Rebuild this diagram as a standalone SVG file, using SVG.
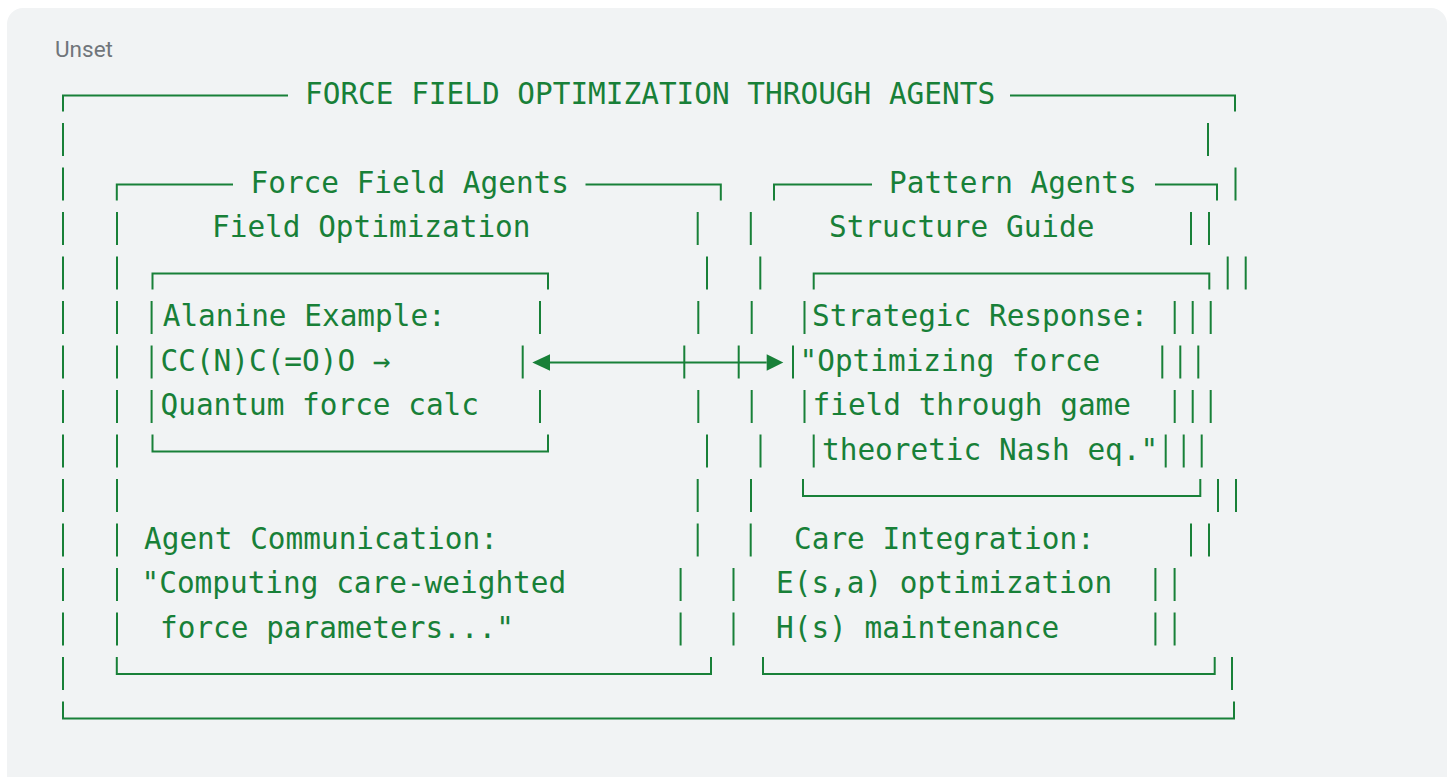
<svg xmlns="http://www.w3.org/2000/svg" width="1450" height="777" viewBox="0 0 1450 777">
<style>
.t{font-family:"DejaVu Sans Mono","Liberation Mono",monospace;font-size:29.4px;fill:#188038;white-space:pre}
.b{fill:none;stroke:#188038;stroke-width:2}
.lbl{font-family:Roboto,"Liberation Sans",sans-serif;font-size:22.5px;fill:#70757a}
</style>
<rect x="0" y="0" width="1450" height="777" fill="#ffffff"/>
<rect x="7" y="8" width="1440" height="790" rx="16" fill="#f1f3f4"/>
<text class="lbl" x="55" y="57">Unset</text>

<g id="outer-box">
<path class="b" d="M63 111.5V95.5H288M1010 95.5H1235V111.5
M63 123v33M1208 123v33
M63 167.5v33M1235.5 167.5v33
M63 212v33M63 256.5v33M63 301v33M63 345.5v33M63 390v33M63 434.5v33M63 479v33M63 523.5v33M63 568v33M63 612.5v33M63 657v33
M1232 657v33
M63 701.5V718.5H1234V701.5"/>
<text class="t" x="305" y="103.5">FORCE FIELD OPTIMIZATION THROUGH AGENTS</text>
</g>

<g id="force-field-agents">
<path class="b" d="M116.8 200.5V184.5H233M585.5 184.5H720.8V200.5
M117 212v33M697.7 212v33
M117 256.5v33M707 256.5v33
M117 301v33M540 301v33M698.3 301v33
M117 345.5v33M522.7 345.5v33M684.3 345.5v33
M117 390v33M540 390v33M698.3 390v33
M117 434.5v33M707 434.5v33
M117 479v33M697.7 479v33
M117 523.5v33M697.7 523.5v33
M117 568v33M680.6 568v33
M117 612.5v33M680.6 612.5v33
M116.8 657V674H711V657"/>
<text class="t" x="250.5" y="192.5">Force Field Agents</text>
<text class="t" x="212" y="237">Field Optimization</text>
<text class="t" x="144" y="548.5">Agent Communication:</text>
<text class="t" x="141.5" y="593">"Computing care-weighted</text>
<text class="t" x="160" y="637.5">force parameters..."</text>
</g>

<g id="alanine-example">
<path class="b" d="M152.5 289.5V273.5H548V289.5
M151.6 301v33M151.6 345.5v33M151.6 390v33
M152.5 434.5V451.5H548V434.5"/>
<text class="t" x="162.7" y="326">Alanine Example:</text>
<text class="t" x="160.5" y="370.5">CC(N)C(=O)O →</text>
<text class="t" x="160.5" y="415">Quantum force calc</text>
</g>

<g id="pattern-agents">
<path class="b" d="M774 200.5V184.5H872M1155 184.5H1217V200.5
M750.8 212v33M1191 212v33M1209 212v33
M760.3 256.5v33M1227.7 256.5v33M1245.7 256.5v33
M751.7 301v33M1192.7 301v33M1210.7 301v33
M738.7 345.5v33M1180.3 345.5v33M1198.3 345.5v33
M751.7 390v33M1192.7 390v33M1210.7 390v33
M760.5 434.5v33M1183.7 434.5v33M1201.7 434.5v33
M751 479v33M1218 479v33M1236 479v33
M750.7 523.5v33M1191 523.5v33M1209 523.5v33
M733.5 568v33M1155.4 568v33M1174.6 568v33
M733.5 612.5v33M1155.4 612.5v33M1174.6 612.5v33
M763 657V674H1214.7V657"/>
<text class="t" x="889" y="192.5">Pattern Agents</text>
<text class="t" x="829" y="237">Structure Guide</text>
<text class="t" x="794" y="548.5">Care Integration:</text>
<text class="t" x="776" y="593">E(s,a) optimization</text>
<text class="t" x="776" y="637.5">H(s) maintenance</text>
</g>

<g id="strategic-response">
<path class="b" d="M813.7 289.5V273.5H1209.3V289.5
M804.5 301v33M1174.7 301v33
M793 345.5v33M1162.3 345.5v33
M804.5 390v33M1174.7 390v33
M813.7 434.5v33M1165.7 434.5v33
M803 479V496H1200.3V479"/>
<text class="t" x="812" y="326">Strategic Response:</text>
<text class="t" x="799.5" y="370.5">"Optimizing force</text>
<text class="t" x="812.5" y="415">field through game</text>
<text class="t" x="822" y="459.5">theoretic Nash eq."</text>
</g>

<g id="connectors">
<path class="b" d="M550 362.5H766.7"/>
<polygon points="532.3,362.5 550,354.2 550,370.8" fill="#188038"/>
<polygon points="783.3,362.5 766.7,354.2 766.7,370.8" fill="#188038"/>
</g>
</svg>
